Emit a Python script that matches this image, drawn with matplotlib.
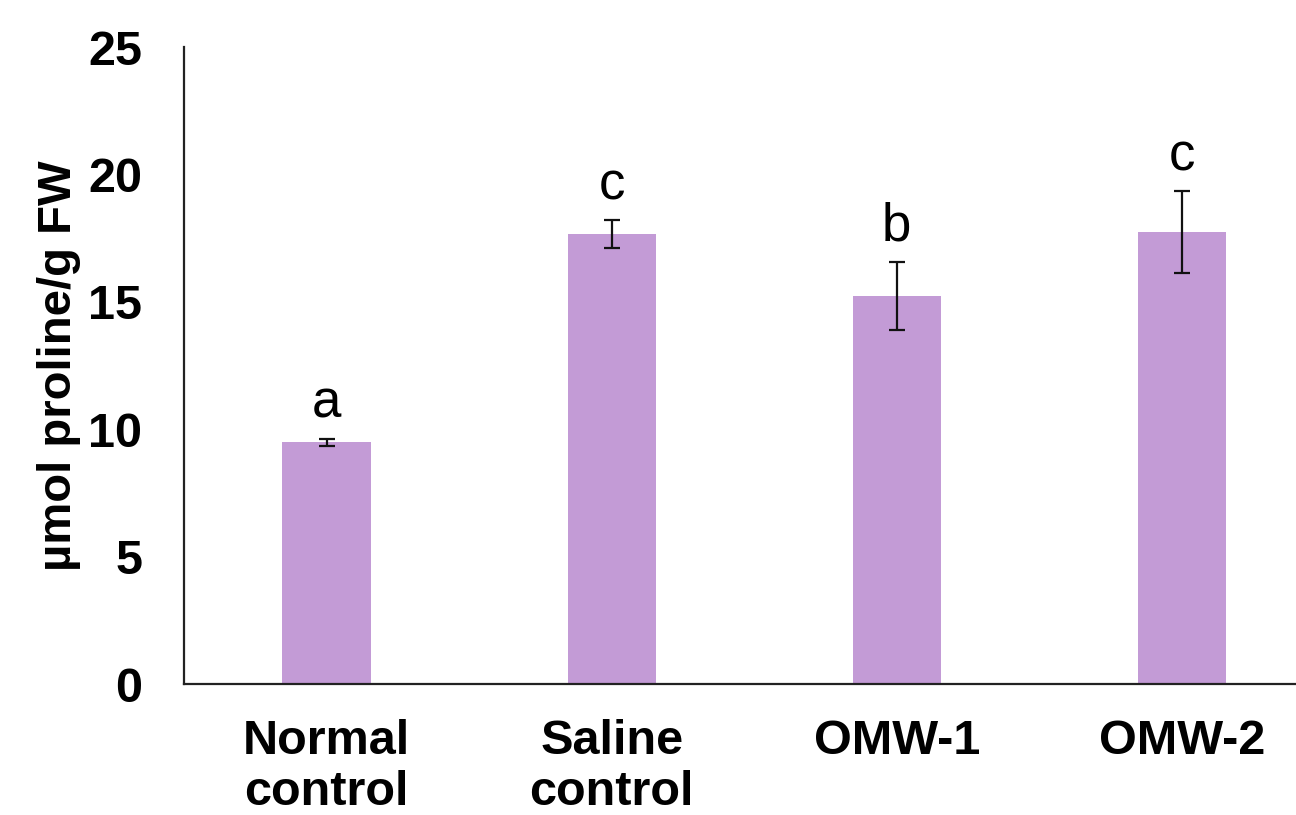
import numpy as np
import matplotlib.pyplot as plt

plt.rcParams['font.family'] = ['Liberation Sans', 'DejaVu Sans']

# Data
categories = ['Normal\ncontrol', 'Saline\ncontrol', 'OMW-1', 'OMW-2']
proline = [9.48, 17.66, 15.23, 17.73]
errors = [0.15, 0.54, 1.35, 1.60]
letters = ['a', 'c', 'b', 'c']

fig = plt.figure(figsize=(12.96, 8.15), dpi=100)
ax = fig.add_axes([0.142, 0.1607, 0.858, 0.7816])

x = np.arange(len(categories))
ax.bar(x, proline, width=0.31, color='#c39bd6', zorder=2)
ax.errorbar(x, proline, yerr=errors, fmt='none', ecolor='#111111',
            elinewidth=1.6, capsize=6, capthick=1.6, zorder=3)

for xi, m, e, lab in zip(x, proline, errors, letters):
    ax.annotate(lab, (xi, m + e), xytext=(0, 7), textcoords='offset points',
                ha='center', va='bottom', fontsize=38)

ax.set_xlim(-0.5, 3.4)
ax.set_ylim(0, 25)
ax.set_yticks([0, 5, 10, 15, 20, 25])
ax.set_xticks(x)
ax.set_xticklabels(categories, fontsize=35, fontweight='bold', linespacing=1.18)
ax.tick_params(axis='y', length=0, pad=30, labelsize=35)
ax.tick_params(axis='x', length=0, pad=25)
for t in ax.get_yticklabels():
    t.set_fontweight('bold')

ax.set_ylabel('µmol proline/g FW', fontsize=34, fontweight='bold', labelpad=5)

for s in ['top', 'right']:
    ax.spines[s].set_visible(False)
for s in ['left', 'bottom']:
    ax.spines[s].set_linewidth(1.6)
    ax.spines[s].set_color('#222222')

fig.savefig('out.png', dpi=100)
